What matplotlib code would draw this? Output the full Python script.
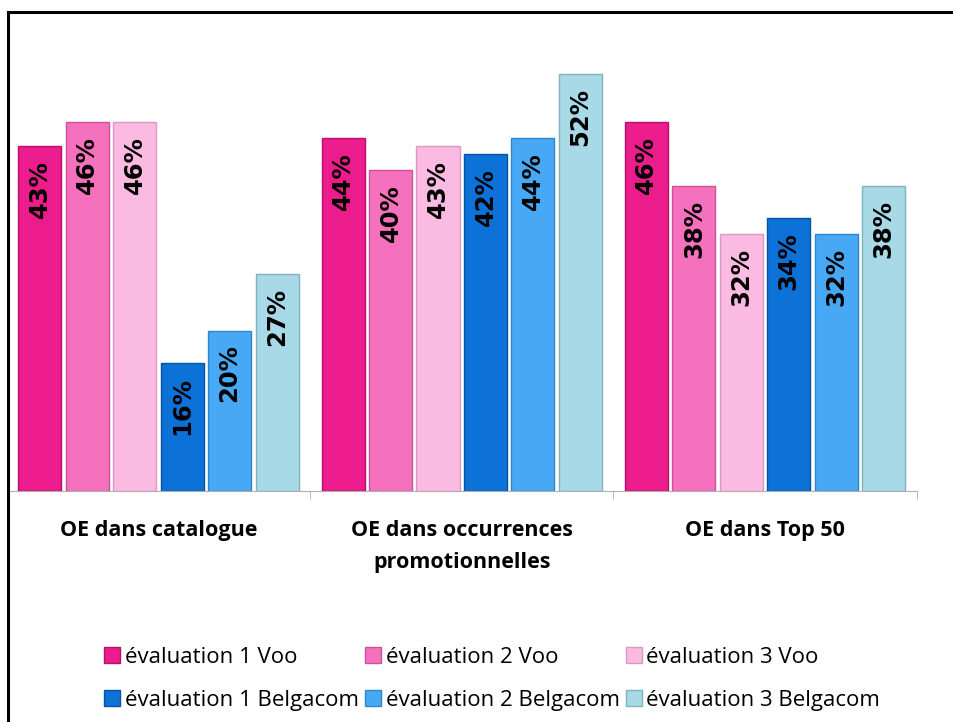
import numpy as np
import matplotlib
matplotlib.use("Agg")
import matplotlib.pyplot as plt
from matplotlib.patches import Rectangle

# data (percent)
categories = ["OE dans catalogue", "OE dans occurrences\npromotionnelles", "OE dans Top 50"]
series = ["évaluation 1 Voo", "évaluation 2 Voo", "évaluation 3 Voo",
          "évaluation 1 Belgacom", "évaluation 2 Belgacom", "évaluation 3 Belgacom"]
eval1_voo = [43, 44, 46]
eval2_voo = [46, 40, 38]
eval3_voo = [46, 43, 32]
eval1_bgc = [16, 42, 34]
eval2_bgc = [20, 44, 32]
eval3_bgc = [27, 52, 38]
values = [eval1_voo, eval2_voo, eval3_voo, eval1_bgc, eval2_bgc, eval3_bgc]

colors = ["#EC1C8C", "#F571BD", "#FBBAE2", "#0C72D8", "#47A9F6", "#A8D9E6"]
edges = ["#B5106A", "#D0509A", "#D89AC0", "#08539F", "#2E85C8", "#7FB2C0"]

fig = plt.figure(figsize=(9.54, 7.22), dpi=100)
ax = fig.add_axes([6.75 / 954, (722 - 491) / 722, 910 / 954, 55 * 8.02 / 722])

x = np.arange(len(categories))
pitch = 0.1565
width = 0.142
for i, (name, vals) in enumerate(zip(series, values)):
    pos = x + (i - 2.5) * pitch
    bars = ax.bar(pos, vals, width, color=colors[i], edgecolor=edges[i],
                  linewidth=1.0, label=name, zorder=3)
    for b, v in zip(bars, vals):
        ax.annotate(f"{v}%", (b.get_x() + b.get_width() / 2, v),
                    xytext=(0, -10), textcoords="offset points",
                    rotation=90, ha="center", va="top",
                    fontsize=17.5, fontweight="bold", color="black",
                    family="DejaVu Sans", zorder=4)

ax.set_xlim(-0.5, 2.5)
ax.set_ylim(0, 55)
ax.set_yticks([])
for s in ["left", "right", "top"]:
    ax.spines[s].set_visible(False)
ax.spines["bottom"].set_color("#B0B0B0")
ax.set_xticks(x)
ax.set_xticklabels(categories, fontsize=15.5, fontweight="bold",
                   family="Open Sans", linespacing=1.65)
ax.tick_params(axis="x", which="major", length=0, pad=21)
ax.set_xticks([0.5, 1.5, 2.5], minor=True)
ax.tick_params(axis="x", which="minor", length=6, color="#B0B0B0")

handles, labels = ax.get_legend_handles_labels()
order = [0, 3, 1, 4, 2, 5]
fig.legend([handles[k] for k in order], [labels[k] for k in order],
           loc="center", bbox_to_anchor=(0.516, 0.060), ncol=3,
           frameon=False, prop={"family": "Open Sans", "size": 16},
           handlelength=0.72, handleheight=0.72, handletextpad=0.2,
           columnspacing=0.28, labelspacing=1.0)

# outer frame of the original slide
fig.patches.append(Rectangle((8 / 954, -0.1), 1.2, 1.1 - 12 / 722,
                             transform=fig.transFigure, fill=False,
                             edgecolor="black", linewidth=2.2))

fig.savefig("out.png", dpi=100)
